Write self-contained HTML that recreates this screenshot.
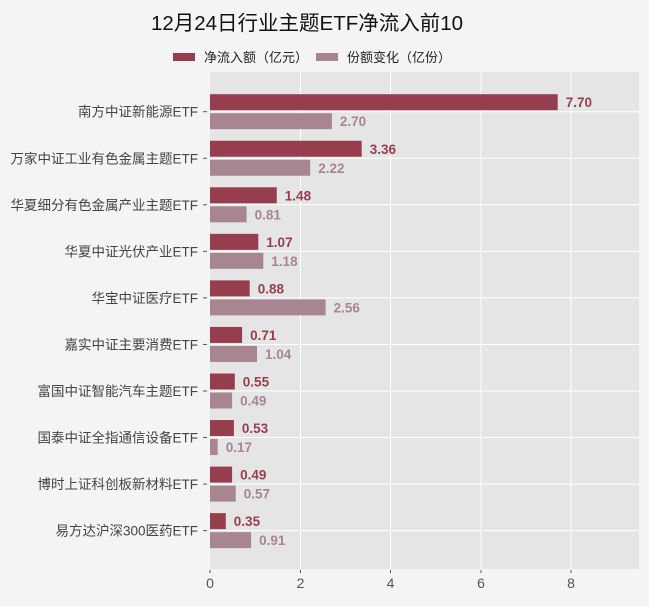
<!DOCTYPE html>
<html><head><meta charset="utf-8"><style>
body{margin:0;background:#f4f4f4;}
svg{display:block;font-family:"Liberation Sans","Noto Sans CJK SC",sans-serif;}
.d{fill:#973e4e}.l{fill:#a8868f}
.vd{font-size:13.5px;font-weight:bold;fill:#973e4e}
.vl{font-size:13.5px;font-weight:bold;fill:#a8868f}
.lb{font-size:13.5px;fill:#444;text-anchor:end}
</style></head><body>
<svg width="649" height="606" viewBox="0 0 649 606">
<rect width="649" height="606" fill="#f4f4f4"/>
<text x="307" y="30" font-size="20.5" text-anchor="middle" fill="#111">12月24日行业主题ETF净流入前10</text>
<rect x="173" y="53" width="22" height="8" fill="#973e4e"/>
<text x="204" y="62" font-size="13" fill="#222">净流入额（亿元）</text>
<rect x="316" y="53" width="22" height="8" fill="#a8868f"/>
<text x="347" y="62" font-size="13" fill="#222">份额变化（亿份）</text>
<rect x="210" y="72" width="429" height="497" fill="#e5e5e5"/>
<g stroke="#fff" stroke-width="1">
<line x1="300.5" y1="72" x2="300.5" y2="569"/><line x1="390.5" y1="72" x2="390.5" y2="569"/>
<line x1="481" y1="72" x2="481" y2="569"/><line x1="571" y1="72" x2="571" y2="569"/>
<line x1="210" x2="639" y1="111.7" y2="111.7"/><line x1="210" x2="639" y1="158.25" y2="158.25"/>
<line x1="210" x2="639" y1="204.8" y2="204.8"/><line x1="210" x2="639" y1="251.35" y2="251.35"/>
<line x1="210" x2="639" y1="297.9" y2="297.9"/><line x1="210" x2="639" y1="344.45" y2="344.45"/>
<line x1="210" x2="639" y1="391" y2="391"/><line x1="210" x2="639" y1="437.55" y2="437.55"/>
<line x1="210" x2="639" y1="484.1" y2="484.1"/><line x1="210" x2="639" y1="530.65" y2="530.65"/>
</g>

<g transform="translate(0,111.7)"><rect class="d" x="210" y="-17.5" width="347.7" height="16"/><rect class="l" x="210" y="1.5" width="121.9" height="16"/><text class="vd" x="565.7" y="-4.5">7.70</text><text class="vl" x="339.9" y="14.5">2.70</text><text class="lb" x="198" y="5">南方中证新能源ETF</text><line x1="203" x2="207" stroke="#555"/></g>
<g transform="translate(0,158.25)"><rect class="d" x="210" y="-17.5" width="151.7" height="16"/><rect class="l" x="210" y="1.5" width="100.2" height="16"/><text class="vd" x="369.7" y="-4.5">3.36</text><text class="vl" x="318.2" y="14.5">2.22</text><text class="lb" x="198" y="5">万家中证工业有色金属主题ETF</text><line x1="203" x2="207" stroke="#555"/></g>
<g transform="translate(0,204.8)"><rect class="d" x="210" y="-17.5" width="66.8" height="16"/><rect class="l" x="210" y="1.5" width="36.6" height="16"/><text class="vd" x="284.8" y="-4.5">1.48</text><text class="vl" x="254.6" y="14.5">0.81</text><text class="lb" x="198" y="5">华夏细分有色金属产业主题ETF</text><line x1="203" x2="207" stroke="#555"/></g>
<g transform="translate(0,251.35)"><rect class="d" x="210" y="-17.5" width="48.3" height="16"/><rect class="l" x="210" y="1.5" width="53.3" height="16"/><text class="vd" x="266.3" y="-4.5">1.07</text><text class="vl" x="271.3" y="14.5">1.18</text><text class="lb" x="198" y="5">华夏中证光伏产业ETF</text><line x1="203" x2="207" stroke="#555"/></g>
<g transform="translate(0,297.9)"><rect class="d" x="210" y="-17.5" width="39.7" height="16"/><rect class="l" x="210" y="1.5" width="115.6" height="16"/><text class="vd" x="257.7" y="-4.5">0.88</text><text class="vl" x="333.6" y="14.5">2.56</text><text class="lb" x="198" y="5">华宝中证医疗ETF</text><line x1="203" x2="207" stroke="#555"/></g>
<g transform="translate(0,344.45)"><rect class="d" x="210" y="-17.5" width="32.1" height="16"/><rect class="l" x="210" y="1.5" width="47" height="16"/><text class="vd" x="250.1" y="-4.5">0.71</text><text class="vl" x="265" y="14.5">1.04</text><text class="lb" x="198" y="5">嘉实中证主要消费ETF</text><line x1="203" x2="207" stroke="#555"/></g>
<g transform="translate(0,391)"><rect class="d" x="210" y="-17.5" width="24.8" height="16"/><rect class="l" x="210" y="1.5" width="22.1" height="16"/><text class="vd" x="242.8" y="-4.5">0.55</text><text class="vl" x="240.1" y="14.5">0.49</text><text class="lb" x="198" y="5">富国中证智能汽车主题ETF</text><line x1="203" x2="207" stroke="#555"/></g>
<g transform="translate(0,437.55)"><rect class="d" x="210" y="-17.5" width="23.9" height="16"/><rect class="l" x="210" y="1.5" width="7.7" height="16"/><text class="vd" x="241.9" y="-4.5">0.53</text><text class="vl" x="225.7" y="14.5">0.17</text><text class="lb" x="198" y="5">国泰中证全指通信设备ETF</text><line x1="203" x2="207" stroke="#555"/></g>
<g transform="translate(0,484.1)"><rect class="d" x="210" y="-17.5" width="22.1" height="16"/><rect class="l" x="210" y="1.5" width="25.7" height="16"/><text class="vd" x="240.1" y="-4.5">0.49</text><text class="vl" x="243.7" y="14.5">0.57</text><text class="lb" x="198" y="5">博时上证科创板新材料ETF</text><line x1="203" x2="207" stroke="#555"/></g>
<g transform="translate(0,530.65)"><rect class="d" x="210" y="-17.5" width="15.8" height="16"/><rect class="l" x="210" y="1.5" width="41.1" height="16"/><text class="vd" x="233.8" y="-4.5">0.35</text><text class="vl" x="259.1" y="14.5">0.91</text><text class="lb" x="198" y="5">易方达沪深300医药ETF</text><line x1="203" x2="207" stroke="#555"/></g>

<g font-size="14" fill="#555" text-anchor="middle">
<text x="210" y="588">0</text><text x="300.5" y="588">2</text><text x="390.5" y="588">4</text><text x="481" y="588">6</text><text x="571" y="588">8</text>
</g>
<g stroke="#555"><line x1="210" y1="570" x2="210" y2="573"/><line x1="300.5" y1="570" x2="300.5" y2="573"/><line x1="390.5" y1="570" x2="390.5" y2="573"/><line x1="481" y1="570" x2="481" y2="573"/><line x1="571" y1="570" x2="571" y2="573"/></g>
</svg>
</body></html>
